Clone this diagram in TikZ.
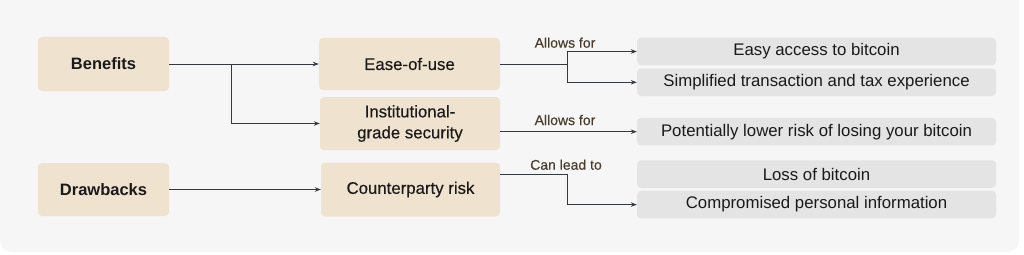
\documentclass[tikz,border=0pt]{standalone}
\usepackage{fontspec}
\setmainfont{Liberation Sans}
\newfontfamily\medfont[FakeBold=0.35]{Liberation Sans}
\usetikzlibrary{arrows.meta,calc}
\definecolor{bgc}{HTML}{F6F6F6}
\definecolor{beige}{HTML}{EFE3D0}
\definecolor{grayb}{HTML}{E4E4E4}
\definecolor{linec}{HTML}{353A40}
\definecolor{labc}{HTML}{4A3D2C}
\definecolor{txt}{HTML}{1A1A1A}
\tikzset{
  lbox/.style={fill=beige, rounded corners=4pt, inner sep=0pt, align=center, text=txt,
    font=\fontsize{16.5}{20}\selectfont\bfseries},
  mbox/.style={fill=beige, rounded corners=4pt, inner sep=0pt, align=center, text=txt,
    font=\medfont\fontsize{16.8}{21}\selectfont},
  rbox/.style={fill=grayb, rounded corners=4pt, inner sep=0pt, minimum width=359pt, minimum height=27.5pt, text=txt,
    font=\fontsize{16.8}{20}\selectfont},
  conn/.style={draw=linec, line width=0.9pt, -{Stealth[length=6pt,width=4.5pt]}},
  plain/.style={draw=linec, line width=0.9pt},
  lab/.style={text=labc, font=\medfont\fontsize{14}{16}\selectfont, inner sep=0pt}
}
\begin{document}
\begin{tikzpicture}[x=1pt,y=-1pt]
\useasboundingbox (0,0) rectangle (1024,254);
\fill[white] (0,0) rectangle (1024,254);
\fill[bgc, rounded corners=12pt] (0,-20) rectangle (1019,252);

\node[lbox, minimum width=131pt, minimum height=54pt] (ben) at (103.5,64) {Benefits};
\node[lbox, minimum width=131pt, minimum height=53pt] (dra) at (103.5,189.5) {Drawbacks};
\node[mbox, minimum width=181pt, minimum height=52pt] (ease) at (409.5,64) {Ease-of-use};
\node[mbox, minimum width=180pt, minimum height=53pt] (inst) at (410,123.5) {Institutional-\\grade security};
\node[mbox, minimum width=179pt, minimum height=54pt] (cp) at (410.5,189.5) {Counterparty risk};

\node[rbox] (easy) at (816.5,51.5) {Easy access to bitcoin};
\node[rbox] (simp) at (816.5,82.3) {Simplified transaction and tax experience};
\node[rbox] (pot) at (816.5,131.7) {Potentially lower risk of losing your bitcoin};
\node[rbox] (loss) at (816.5,174) {Loss of bitcoin};
\node[rbox] (comp) at (816.5,204.6) {Compromised personal information};

\coordinate (b0) at (231,64);
\coordinate (b1) at (567,64);
\coordinate (b3) at (567.5,174);

\draw[conn] (ben.east) -- (ease.west);
\draw[conn] (b0) |- (inst.west);
\draw[conn] (dra.east) -- (cp.west);

\draw[plain] (ease.east) -- (b1);
\draw[conn] (b1) |- (easy.west);
\draw[conn] (b1) |- (simp.west);
\draw[conn] (inst.east |- pot.west) -- (pot.west);
\draw[plain] (cp.east |- loss.west) -- (b3);
\draw[conn] (b3) |- (comp.west);

\node[lab] (l1) at (565,42.7) {Allows for};
\node[lab] (l2) at (565,120) {Allows for};
\node[lab] (l3) at (566,164.7) {Can lead to};
\end{tikzpicture}
\end{document}
